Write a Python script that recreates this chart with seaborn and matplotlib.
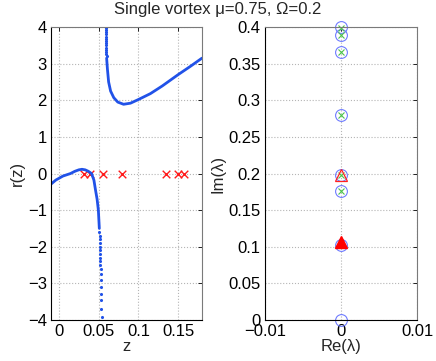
import matplotlib
matplotlib.use("Agg")
import matplotlib.pyplot as plt
import seaborn as sns
import pandas as pd

# left panel: r(z) branches
lower_z = [-0.010, -0.004, 0.005, 0.0146, 0.020, 0.025, 0.029, 0.033, 0.037,
           0.041, 0.044, 0.046, 0.048, 0.0496, 0.0508]
lower_r = [-0.29, -0.18, -0.07, 0.0, 0.06, 0.10, 0.115, 0.10, 0.06,
           0.0, -0.18, -0.45, -0.70, -1.0, -1.5]
lower_tail_z = [0.0510, 0.0512, 0.0513, 0.0514, 0.0515, 0.0516, 0.0517, 0.0518,
                0.0519, 0.0521, 0.0523, 0.0525, 0.0527, 0.0529, 0.0531,
                0.0533, 0.0535, 0.0537]
lower_tail_r = [-1.6, -1.7, -1.8, -1.9, -2.0, -2.1, -2.2, -2.3,
                -2.39, -2.50, -2.62, -2.75, -2.91, -3.10, -3.28,
                -3.46, -3.69, -3.92]
upper_z = [0.0600, 0.0610, 0.0625, 0.065, 0.069, 0.074, 0.0813, 0.090,
           0.100, 0.115, 0.130, 0.150, 0.165, 0.180]
upper_r = [3.15, 2.85, 2.50, 2.25, 2.07, 1.95, 1.89, 1.92,
           2.02, 2.18, 2.39, 2.70, 2.92, 3.15]
upper_tail_z = [0.0586, 0.0587, 0.0588, 0.0589, 0.0590, 0.0591, 0.0592,
                0.0593, 0.0594, 0.0595, 0.0596, 0.0597, 0.0598, 0.0599]
upper_tail_r = [3.98, 3.92, 3.86, 3.80, 3.74, 3.68, 3.62,
                3.56, 3.50, 3.44, 3.38, 3.32, 3.26, 3.20]
roots_z = [0.0321, 0.0388, 0.0550, 0.0793, 0.1343, 0.1500, 0.1570]
roots_r = [0, 0, 0, 0, 0, 0, 0]

# right panel: eigenvalues
circ_re = [0, 0, 0, 0, 0, 0, 0, 0]
circ_im = [0.0, 0.103, 0.1755, 0.198, 0.280, 0.366, 0.389, 0.400]
cross_re = [0, 0, 0, 0, 0, 0]
cross_im = [0.1755, 0.198, 0.280, 0.366, 0.389, 0.398]
tri_open_im = [0.198]
tri_fill_im = [0.106]

sns.set_theme(style="white")
plt.rcParams["font.family"] = ["Liberation Sans", "DejaVu Sans"]
plt.rcParams["font.size"] = 12
plt.rcParams["axes.unicode_minus"] = True

blue = "#2152e8"
fig = plt.figure(figsize=(4.36, 3.61), dpi=100)
ax1 = fig.add_axes([51 / 436, 41 / 361, 151 / 436, 293 / 361])
ax2 = fig.add_axes([265 / 436, 41 / 361, 152 / 436, 293 / 361])

sns.lineplot(x=lower_z, y=lower_r, ax=ax1, color=blue, lw=2.0, sort=False, estimator=None)
sns.lineplot(x=upper_z, y=upper_r, ax=ax1, color=blue, lw=2.0, sort=False, estimator=None)
sns.scatterplot(x=lower_tail_z, y=lower_tail_r, ax=ax1, color=blue, s=5, linewidth=0)
sns.scatterplot(x=upper_tail_z, y=upper_tail_r, ax=ax1, color=blue, s=5, linewidth=0)
sns.scatterplot(x=roots_z, y=roots_r, ax=ax1, color="#ff1a1a", marker="x", s=30, linewidth=1)

ax1.set_xlim(-0.01, 0.18)
ax1.set_ylim(-4, 4)
ax1.set_xticks([0, 0.05, 0.1, 0.15])
ax1.set_xticklabels(["0", "0.05", "0.1", "0.15"])
ax1.set_yticks(range(-4, 5))
ax1.set_xlabel("z", labelpad=0)
ax1.set_ylabel("r(z)", labelpad=2)

ax2.plot(circ_re, circ_im, ls="none", marker="o", ms=8.5, mfc="none", mec="#6f7cff",
         mew=0.8, clip_on=False)
ax2.plot(cross_re, cross_im, ls="none", marker="x", ms=5, mec="#4cc44c", mew=0.8,
         clip_on=False)
ax2.plot([0] * len(tri_open_im), tri_open_im, ls="none", marker="^", ms=8, mfc="none",
         mec="#ff2020", mew=0.9)
ax2.plot([0] * len(tri_fill_im), tri_fill_im, ls="none", marker="^", ms=8, mfc="#ff0000",
         mec="#ff0000")
ax2.set_xlim(-0.01, 0.01)
ax2.set_ylim(0, 0.4)
ax2.set_xticks([-0.01, 0, 0.01])
ax2.set_xticklabels(["\u22120.01", "0", "0.01"])
ax2.set_yticks([0, 0.05, 0.1, 0.15, 0.2, 0.25, 0.3, 0.35, 0.4])
ax2.set_yticklabels(["0", "0.05", "0.1", "0.15", "0.2", "0.25", "0.3", "0.35", "0.4"])
ax2.set_xlabel("Re(\u03bb)", labelpad=0)
ax2.set_ylabel("Im(\u03bb)", labelpad=2)

for ax in (ax1, ax2):
    ax.grid(True, ls=":", color="#b5b5b5", lw=0.8)
    ax.set_axisbelow(True)
    ax.tick_params(direction="in", length=3, width=0.6, top=True, right=True,
                   labelsize=12, pad=3, colors="black")
    for side in ("left", "bottom"):
        ax.spines[side].set_color("black")
        ax.spines[side].set_linewidth(0.8)
    for side in ("top", "right"):
        ax.spines[side].set_color("#7a7a7a")
        ax.spines[side].set_linewidth(0.8)

fig.suptitle("Single vortex \u03bc=0.75, \u03a9=0.2", y=1 - 2 / 361, va="top", fontsize=12)
fig.savefig("out.png", dpi=100)
